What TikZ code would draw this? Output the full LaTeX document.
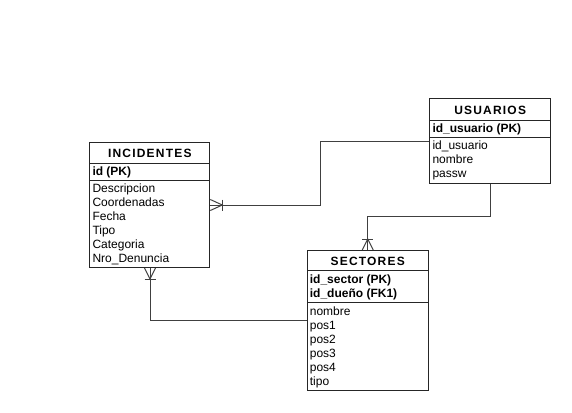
\documentclass[tikz,border=0pt]{standalone}
\usepackage{fontspec}
\setmainfont{Liberation Sans}
\newfontfamily\ttlfont[LetterSpace=10]{Liberation Sans}
\usetikzlibrary{calc}
\begin{document}
\begin{tikzpicture}[x=1pt,y=-1pt,
  sect/.style={draw=black!85, line width=1pt, anchor=north west, inner sep=0pt, fill=white},
  ttl/.style={font=\ttlfont\bfseries\fontsize{12}{14}\selectfont, inner sep=0pt},
  fld/.style={font=\fontsize{12}{14}\selectfont, anchor=west, inner sep=0pt, text height=10.2pt, text depth=0.8pt},
  key/.style={fld, font=\bfseries\fontsize{12}{14}\selectfont},
  rel/.style={draw=black!75, line width=1pt},
]
\useasboundingbox (0,0) rectangle (572,412);

% INCIDENTES
\node[sect, minimum width=120pt, minimum height=20.7pt] (inct) at (89.3,142) {};
\node[sect, minimum width=120pt, minimum height=17.3pt] (incp) at (89.3,162.7) {};
\node[sect, minimum width=120pt, minimum height=87pt] (incb) at (89.3,180) {};
\node[ttl] (inctt) at ($(inct.center)+(0,0.7)$) {INCIDENTES};
\node[key] (incpk) at (92.3,171) {id (PK)};
\node[fld] (incf1) at (92.3,188) {Descripcion};
\node[fld] (incf2) at (92.3,202) {Coordenadas};
\node[fld] (incf3) at (92.3,216) {Fecha};
\node[fld] (incf4) at (92.3,230) {Tipo};
\node[fld] (incf5) at (92.3,244) {Categoria};
\node[fld] (incf6) at (92.3,258) {Nro\_Denuncia};

% USUARIOS
\node[sect, minimum width=120.7pt, minimum height=21.7pt] (usrt) at (429.3,98.3) {};
\node[sect, minimum width=120.7pt, minimum height=16.7pt] (usrp) at (429.3,120) {};
\node[sect, minimum width=120.7pt, minimum height=46pt] (usrb) at (429.3,136.7) {};
\node[ttl] (usrtt) at ($(usrt.center)+(0,0.7)$) {USUARIOS};
\node[key] (usrpk) at (432.3,128) {id\_usuario (PK)};
\node[fld] (usrf1) at (432.3,145) {id\_usuario};
\node[fld] (usrf2) at (432.3,159) {nombre};
\node[fld] (usrf3) at (432.3,173) {passw};

% SECTORES
\node[sect, minimum width=121pt, minimum height=20pt] (sect) at (306.7,250) {};
\node[sect, minimum width=121pt, minimum height=31.7pt] (secp) at (306.7,270) {};
\node[sect, minimum width=121pt, minimum height=88.3pt] (secb) at (306.7,301.7) {};
\node[ttl] (sectt) at ($(sect.center)+(0,0.7)$) {SECTORES};
\node[key] (secpk1) at (309.7,279) {id\_sector (PK)};
\node[key] (secpk2) at (309.7,292.5) {id\_dueño (FK1)};
\node[fld] (secf1) at (309.7,311) {nombre};
\node[fld] (secf2) at (309.7,325) {pos1};
\node[fld] (secf3) at (309.7,339) {pos2};
\node[fld] (secf4) at (309.7,353) {pos3};
\node[fld] (secf5) at (309.7,367) {pos4};
\node[fld] (secf6) at (309.7,381) {tipo};

% connector USUARIOS -> INCIDENTES
\coordinate (c0) at (320,141);
\coordinate (c1) at (320,205);
\coordinate (e1) at (c1 -| incb.east);
\draw[rel] (c0 -| usrb.west) -- (c0) -- (c1) -- (e1);
\draw[rel] ($(e1)+(0,-5.5)$) -- ($(e1)+(12,0)$) -- ($(e1)+(0,5.5)$);
\draw[rel] ($(e1)+(12,-5.5)$) -- ($(e1)+(12,5.5)$);

% connector USUARIOS -> SECTORES
\coordinate (c2) at (490,216);
\coordinate (c3) at (367.7,216);
\coordinate (e3) at (c3 |- sect.north);
\draw[rel] (c2 |- usrb.south) -- (c2) -- (c3) -- (e3);
\draw[rel] ($(e3)+(-5.5,0)$) -- ($(e3)+(0,-11)$) -- ($(e3)+(5.5,0)$);
\draw[rel] ($(e3)+(-5.5,-11)$) -- ($(e3)+(5.5,-11)$);

% connector SECTORES -> INCIDENTES
\coordinate (c4) at (150,320);
\coordinate (e4) at (c4 |- incb.south);
\draw[rel] (e4) -- (c4) -- (c4 -| secb.west);
\draw[rel] ($(e4)+(-5.5,0)$) -- ($(e4)+(0,11)$) -- ($(e4)+(5.5,0)$);
\draw[rel] ($(e4)+(-5.5,11)$) -- ($(e4)+(5.5,11)$);
\end{tikzpicture}
\end{document}
